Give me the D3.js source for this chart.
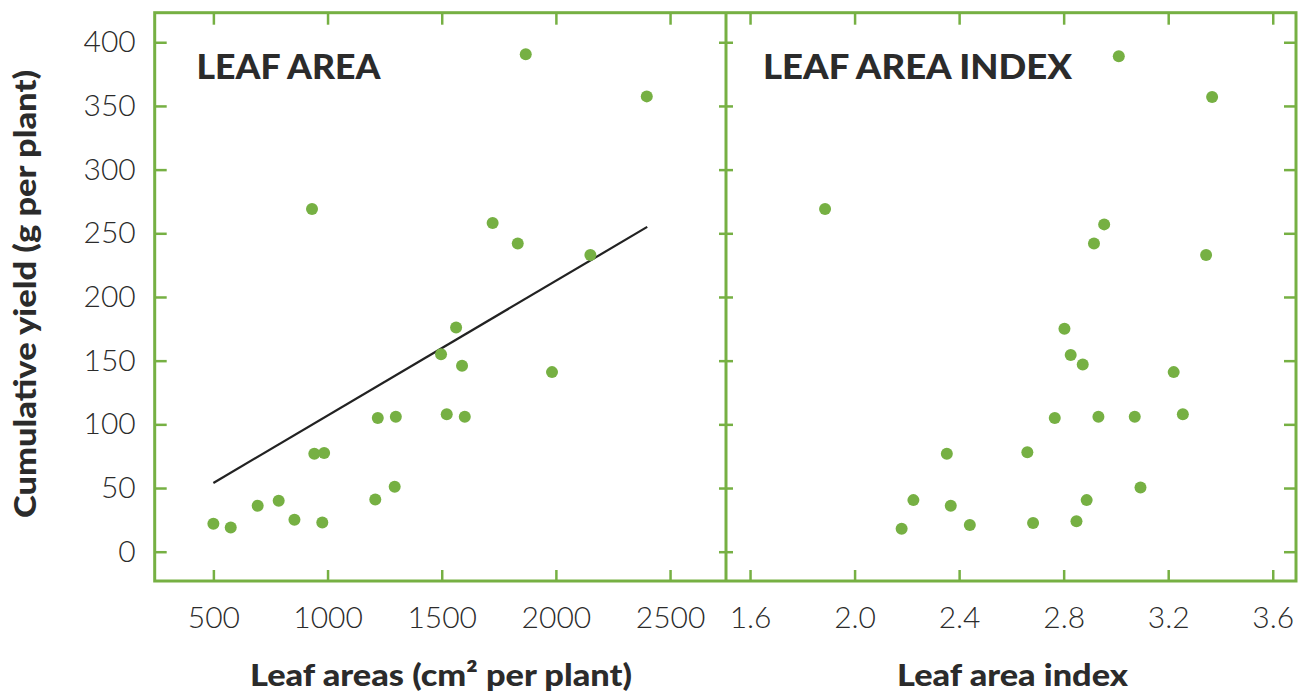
<!DOCTYPE html>
<html>
<head>
<meta charset="UTF-8" />
<title>Leaf area vs cumulative yield</title>
<script src="https://d3js.org/d3.v7.min.js"></script>
<style>
  body { margin: 0; background: #fff; }
  .tick text { font-family: Lato, "Open Sans", sans-serif; font-weight: 300; font-size: 30px; fill: #2b2b2b; }
  .tick line { stroke: #76b043; stroke-width: 2.5; }
  .title { font-family: Lato, sans-serif; font-weight: 900; font-size: 35px; fill: #2b2b2b; }
  .label { font-family: Lato, sans-serif; font-weight: 900; font-size: 31px; fill: #2b2b2b; }
</style>
</head>
<body>
<script>
// leaf area panel (cm2 per plant vs g per plant)
var leafArea = [500, 576, 694, 786, 855, 977, 942, 985, 1209, 1294, 1220, 1299,
                1497, 1563, 1589, 1522, 1601, 1983, 1868, 2398, 1723, 1833, 2151, 932];
var yieldA   = [22, 19, 36, 40, 25, 23, 77, 77.5, 41, 51, 105, 106,
                155, 176, 146, 108, 106, 141, 390.5, 357.5, 258, 242, 233, 269];

// leaf area index panel
var lai    = [2.803, 2.827, 2.873, 3.221, 2.766, 2.933, 3.072, 3.256, 2.353, 2.661, 3.094, 2.225,
              2.368, 2.888, 2.180, 2.441, 2.683, 2.849, 3.011, 3.368, 2.955, 2.916, 3.345, 1.887];
var yieldB = [175, 154.5, 147, 141, 105, 106, 106, 108, 77, 78, 50.5, 40.5,
              36, 40.5, 18, 21, 22.5, 24, 389, 357, 257, 242, 233, 269];

// fitted line for leaf area
var fitX = [500, 2400];
var fitY = [54, 255];

var yTicks = [0, 50, 100, 150, 200, 250, 300, 350, 400];
var areaTicks = [500, 1000, 1500, 2000, 2500];
var laiTicks = [1.6, 2.0, 2.4, 2.8, 3.2, 3.6];

var green = "#76b043";
// frame edges
var fLeft = 154.7, fMid = 726, fRight = 1296, fTop = 12.7, fBottom = 581;

var svg = d3.select("body").append("svg")
  .attr("width", 1299).attr("height", 693);

var y = d3.scaleLinear().domain([-23, 423.2]).range([fBottom, fTop]);
var xA = d3.scaleLinear().domain([243, 2745]).range([fLeft, fMid]);
var xB = d3.scaleLinear().domain([1.508, 3.689]).range([fMid, fRight]);

function clean(g) { g.select(".domain").remove(); }

// bottom axes with inward ticks
svg.append("g").attr("transform", "translate(0," + fBottom + ")")
  .call(d3.axisBottom(xA).tickValues(areaTicks).tickFormat(d3.format("d"))
    .tickSizeInner(-11).tickSizeOuter(0).tickPadding(26))
  .call(clean);
svg.append("g").attr("transform", "translate(0," + fBottom + ")")
  .call(d3.axisBottom(xB).tickValues(laiTicks).tickFormat(d3.format(".1f"))
    .tickSizeInner(-11).tickSizeOuter(0).tickPadding(26))
  .call(clean);

// top axes
svg.append("g").attr("transform", "translate(0," + fTop + ")")
  .call(d3.axisTop(xA).tickValues(areaTicks).tickFormat("").tickSizeInner(-12).tickSizeOuter(0))
  .call(clean);
svg.append("g").attr("transform", "translate(0," + fTop + ")")
  .call(d3.axisTop(xB).tickValues(laiTicks).tickFormat("").tickSizeInner(-12).tickSizeOuter(0))
  .call(clean);

// y axes
svg.append("g").attr("transform", "translate(" + fLeft + ",0)")
  .call(d3.axisLeft(y).tickValues(yTicks).tickFormat(d3.format("d"))
    .tickSizeInner(-12).tickSizeOuter(0).tickPadding(19))
  .call(clean);
svg.append("g").attr("transform", "translate(" + fRight + ",0)")
  .call(d3.axisRight(y).tickValues(yTicks).tickFormat("").tickSizeInner(-12).tickSizeOuter(0))
  .call(clean);
svg.append("g").attr("transform", "translate(" + fMid + ",0)")
  .call(d3.axisLeft(y).tickValues(yTicks).tickFormat("").tickSizeInner(7).tickSizeOuter(0))
  .call(clean);
svg.append("g").attr("transform", "translate(" + fMid + ",0)")
  .call(d3.axisRight(y).tickValues(yTicks).tickFormat("").tickSizeInner(7).tickSizeOuter(0))
  .call(clean);

// frame
svg.append("rect")
  .attr("x", fLeft).attr("y", fTop)
  .attr("width", fRight - fLeft).attr("height", fBottom - fTop)
  .attr("fill", "none").attr("stroke", green).attr("stroke-width", 3);
svg.append("line")
  .attr("x1", fMid).attr("x2", fMid).attr("y1", fTop).attr("y2", fBottom)
  .attr("stroke", green).attr("stroke-width", 3);

// fit line
svg.append("line")
  .attr("x1", xA(fitX[0])).attr("y1", y(fitY[0]))
  .attr("x2", xA(fitX[1])).attr("y2", y(fitY[1]))
  .attr("stroke", "#222").attr("stroke-width", 2.2);

// points
svg.append("g").selectAll("circle")
  .data(leafArea).enter().append("circle")
  .attr("cx", function(d) { return xA(d); })
  .attr("cy", function(d, i) { return y(yieldA[i]); })
  .attr("r", 6).attr("fill", green);

svg.append("g").selectAll("circle")
  .data(lai).enter().append("circle")
  .attr("cx", function(d) { return xB(d); })
  .attr("cy", function(d, i) { return y(yieldB[i]); })
  .attr("r", 6).attr("fill", green);

// panel titles
svg.append("text").attr("class", "title").attr("x", 196.5).attr("y", 78.5)
  .attr("textLength", 184).attr("lengthAdjust", "spacingAndGlyphs").text("LEAF AREA");
svg.append("text").attr("class", "title").attr("x", 763).attr("y", 78.5)
  .attr("textLength", 309).attr("lengthAdjust", "spacingAndGlyphs").text("LEAF AREA INDEX");

// axis titles
svg.append("text").attr("class", "label")
  .attr("x", 250).attr("y", 686)
  .attr("textLength", 382).attr("lengthAdjust", "spacingAndGlyphs")
  .text("Leaf areas (cm² per plant)");
svg.append("text").attr("class", "label")
  .attr("x", 897).attr("y", 686)
  .attr("textLength", 231).attr("lengthAdjust", "spacingAndGlyphs")
  .text("Leaf area index");
svg.append("text").attr("class", "label")
  .attr("transform", "translate(36,518) rotate(-90)")
  .attr("textLength", 448).attr("lengthAdjust", "spacingAndGlyphs")
  .text("Cumulative yield (g per plant)");
</script>
</body>
</html>
